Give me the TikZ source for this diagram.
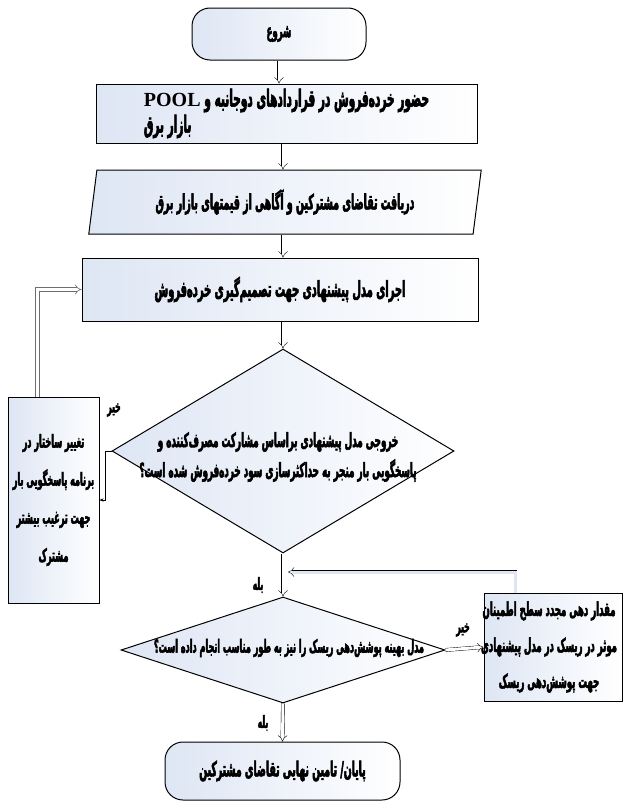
\documentclass[tikz,border=0pt]{standalone}
\usepackage{fontspec}
\usepackage{xcolor}
\usepackage{tikz}
\usetikzlibrary{shapes.geometric, arrows.meta, positioning}
\TeXXeTstate=1
\newfontfamily\farsifont[Script=Arabic, FakeStretch=0.45, FakeBold=2.5]{DejaVu Sans Bold}
\newfontfamily\latinfont{Liberation Serif}
\definecolor{flowblue}{RGB}{222, 230, 244}
\definecolor{flowgray}{RGB}{110, 110, 110}
\newcommand{\rl}[1]{\beginR #1\endR}
\newcommand{\fa}[2]{\farsifont\fontsize{#1}{#2}\selectfont}

\begin{document}
\begin{tikzpicture}[x=1pt, y=-1pt,
    procbox/.style={draw, line width=1pt, left color=flowblue, right color=white, align=center, inner sep=2pt},
    termbox/.style={draw, line width=1pt, rounded corners=18pt, left color=flowblue, right color=white, align=center},
    decbox/.style={draw, line width=1pt, diamond, inner sep=0pt, left color=flowblue, right color=white},
    sidebox/.style={draw, line width=1pt, left color=flowblue, right color=white, align=center},
    flow/.style={double, double distance=3pt, -{Implies[scale=1.2]}},
    tag/.style={font=\fa{17}{18}}]
    \useasboundingbox (0,0) rectangle (624,803);

    % Main column
    \node[termbox, minimum width=174, minimum height=52, font=\fa{19}{20}] (start) at (279,34) {\rl{شروع}};
    \node[procbox, align=left, minimum width=381, minimum height=59, font=\fa{23.5}{26}] (enter) at (286.5,113.5)
        {\rl{حضور خرده‌فروش در قراردادهای دوجانبه و \beginL{\latinfont\bfseries\fontsize{20}{24}\selectfont POOL}\endL}\\\rl{بازار برق}};
    \node[procbox, trapezium, trapezium left angle=79, trapezium right angle=101, trapezium stretches=true,
        minimum width=394, minimum height=64, font=\fa{21}{22}] (demand) at (285,202)
        {\rl{دریافت تقاضای مشترکین و آگاهی از قیمتهای بازار برق}};
    \node[procbox, minimum width=396, minimum height=63, font=\fa{22}{24}] (model) at (280,289.5)
        {\rl{اجرای مدل پیشنهادی جهت تصمیم‌گیری خرده‌فروش}};

    % Decisions
    \node[decbox, minimum width=342, minimum height=204] (profit) at (283,451) {};
    \node[font=\fa{19.5}{30}, align=center] (profittext) at (278,457)
        {\rl{خروجی مدل پیشنهادی براساس مشارکت مصرف‌کننده و}\\\rl{پاسخگویی بار منجر به حداکثرسازی سود خرده‌فروش شده است؟}};
    \node[decbox, minimum width=324, minimum height=106] (risk) at (283,650) {};
    \node[font=\fa{18}{20}] (risktext) at (289,648)
        {\rl{مدل بهینه پوشش‌دهی ریسک را نیز به طور مناسب انجام داده است؟}};

    % Side boxes
    \node[sidebox, minimum width=91, minimum height=206, font=\fa{18}{38}] (change) at (53.5,500)
        {\rl{تغییر ساختار در}\\\rl{برنامه پاسخگویی بار}\\\rl{جهت ترغیب بیشتر}\\\rl{مشترک}};
    \node[sidebox, minimum width=138, minimum height=108] (reset) at (553,647) {};
    \node[font=\fa{19}{36}, align=center] (resettext) at (549,647)
        {\rl{مقدار دهی مجدد سطح اطمینان}\\\rl{موثر در ریسک در مدل پیشنهادی}\\\rl{جهت پوشش‌دهی ریسک}};

    \node[termbox, minimum width=235, minimum height=58, font=\fa{20.7}{22}] (finish) at (282.5,771)
        {\rl{پایان/ تامین نهایی تقاضای مشترکین}};

    % Labels
    \node[tag] (no1) at (114,410) {\rl{خیر}};
    \node[tag] (yes1) at (258,585) {\rl{بله}};
    \node[tag] (no2) at (463,630) {\rl{خیر}};
    \node[tag] (yes2) at (263,723) {\rl{بله}};

    % Arrows
    \coordinate (join) at (288,572);
    \draw[flow] (start) -- (start |- enter.north);
    \draw[flow] (enter.south -| profit) -- (demand.north -| profit);
    \draw[flow] (demand.south -| profit) -- (model.north -| profit);
    \draw[flow] (model.south -| profit) -- (profit.north);
    \draw[flow] (profit.south) -- (risk.north);
    \draw[flow] (risk.south) -- (finish.north);
    \draw[flow] (risk.east) -- (reset.west);
    \draw[-{Stealth[length=4pt]}] (profit.west) -- ++(-6,0) |- (change.east);
    \draw[flow, double=flowblue] ([xshift=32pt]reset.north west) |- (join);
    \draw[flow, flowgray, line width=0.6pt, double=white] ([xshift=-16pt]change.north) |- (model.west);
\end{tikzpicture}
\end{document}
